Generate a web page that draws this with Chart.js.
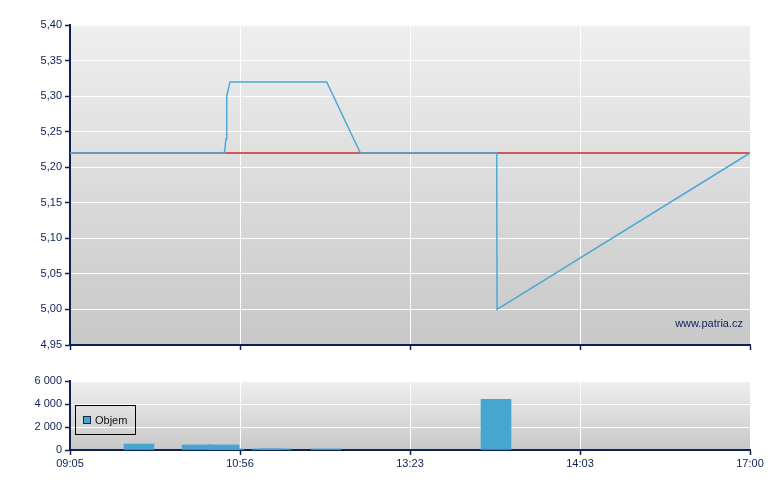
<!DOCTYPE html>
<html>
<head>
<meta charset="utf-8">
<script src="https://cdn.jsdelivr.net/npm/chart.js@4.4.0/dist/chart.umd.min.js"></script>
<style>
  body { margin: 0; background: #fff; }
  #wrap { position: relative; width: 780px; height: 490px; }
  canvas { position: absolute; left: 0; }
  #priceChart { top: 0; }
  #volumeChart { top: 360px; }
</style>
</head>
<body>
<div id="wrap">
  <canvas id="priceChart" width="780" height="360"></canvas>
  <canvas id="volumeChart" width="780" height="130"></canvas>
</div>
<script>
// x positions are in tick slots: 0 = first label, 4 = last label
var timeLabels = ['09:05', '10:56', '13:23', '14:03', '17:00'];

var priceX = [0, 0.908, 0.918, 0.922, 0.941, 1.51, 1.708, 2.51, 2.512, 4];
var priceY = [5.22, 5.22, 5.24, 5.30, 5.32, 5.32, 5.22, 5.22, 5.00, 5.22];
var prevClose = 5.22;

var volumeX = [0.406, 0.747, 0.935, 0.906, 1.159, 1.212, 1.506, 2.506];
var volumeY = [520, 440, 100, 440, 100, 100, 100, 4400];

var navy = '#0c2155';
var font = { family: '"Liberation Sans", Arial, sans-serif', size: 11 };

function toPoints(xs, ys) {
  var pts = [];
  for (var i = 0; i < xs.length; i++) pts.push({ x: xs[i], y: ys[i] });
  return pts;
}

var bgPlugin = {
  id: 'bg',
  beforeDraw: function(chart) {
    var a = chart.chartArea, ctx = chart.ctx;
    var g = ctx.createLinearGradient(0, a.top, 0, a.bottom);
    g.addColorStop(0, '#efefef');
    g.addColorStop(1, '#c8c8c8');
    ctx.save();
    ctx.fillStyle = g;
    ctx.fillRect(a.left, a.top, a.right - a.left, a.bottom - a.top);
    ctx.restore();
  }
};

function xScale(height, showLabels) {
  return {
    type: 'linear', min: 0, max: 4, offset: false,
    afterFit: function(s) { s.height = height; },
    ticks: {
      display: showLabels, stepSize: 1, color: navy, font: font, padding: 2,
      maxRotation: 0, autoSkip: false,
      callback: function(v) { return timeLabels[v]; }
    },
    grid: { offset: false, color: '#ffffff', lineWidth: 1, tickColor: navy, tickLength: 5, tickWidth: 1.5 },
    border: { color: navy, width: 2 }
  };
}

function yScale(min, max, step, fmt) {
  return {
    min: min, max: max,
    afterFit: function(s) { s.width = 70; },
    ticks: { stepSize: step, color: navy, font: font, padding: 3, callback: fmt },
    grid: { color: '#ffffff', lineWidth: 1, tickColor: navy, tickLength: 5, tickWidth: 1.5 },
    border: { color: navy, width: 2 }
  };
}

new Chart(document.getElementById('priceChart'), {
  type: 'line',
  data: {
    datasets: [{
      data: toPoints(priceX, priceY),
      borderColor: '#4ea9d4',
      borderWidth: 1.5,
      pointRadius: 0,
      tension: 0
    }, {
      data: toPoints([0, 4], [prevClose, prevClose]),
      borderColor: '#c4302b',
      borderWidth: 1.5,
      pointRadius: 0
    }]
  },
  options: {
    responsive: false,
    animation: false,
    layout: { padding: { top: 25, right: 30, bottom: 0, left: 0 } },
    plugins: { legend: { display: false }, tooltip: { enabled: false } },
    scales: {
      x: xScale(15, false),
      y: yScale(4.95, 5.40, 0.05, function(v) { return v.toFixed(2).replace('.', ','); })
    }
  },
  plugins: [bgPlugin, {
    id: 'watermark',
    afterDraw: function(chart) {
      var ctx = chart.ctx;
      ctx.save();
      ctx.font = '11px "Liberation Sans", Arial, sans-serif';
      ctx.fillStyle = navy;
      ctx.textAlign = 'right';
      ctx.textBaseline = 'alphabetic';
      ctx.fillText('www.patria.cz', chart.chartArea.right - 7, chart.chartArea.bottom - 18);
      ctx.restore();
    }
  }]
});

new Chart(document.getElementById('volumeChart'), {
  type: 'bar',
  data: {
    datasets: [{
      label: 'Objem',
      data: toPoints(volumeX, volumeY),
      backgroundColor: '#46a6d0',
      barThickness: 30
    }]
  },
  options: {
    responsive: false,
    animation: false,
    layout: { padding: { top: 21, right: 30, bottom: 0, left: 0 } },
    plugins: { legend: { display: false }, tooltip: { enabled: false } },
    scales: {
      x: xScale(40, true),
      y: yScale(0, 6000, 2000, function(v) {
        return String(v).replace(/\B(?=(\d{3})+(?!\d))/g, ' ');
      })
    }
  },
  plugins: [bgPlugin, {
    id: 'boxLegend',
    afterDraw: function(chart) {
      var ctx = chart.ctx;
      ctx.save();
      ctx.strokeStyle = '#000';
      ctx.lineWidth = 1;
      ctx.strokeRect(75.5, 45.5, 60, 29);
      ctx.fillStyle = '#46a6d0';
      ctx.fillRect(83, 56, 8, 8);
      ctx.strokeStyle = '#1a2a40';
      ctx.strokeRect(83.5, 56.5, 7, 7);
      ctx.fillStyle = '#111';
      ctx.font = '11px "Liberation Sans", Arial, sans-serif';
      ctx.textBaseline = 'middle';
      ctx.fillText('Objem', 95, 60.5);
      ctx.restore();
    }
  }]
});
</script>
</body>
</html>
